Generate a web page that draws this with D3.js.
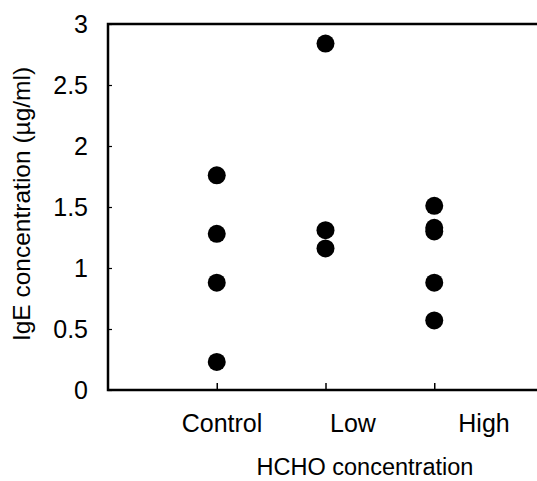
<!DOCTYPE html>
<html>
<head>
<meta charset="utf-8">
<script src="https://cdn.jsdelivr.net/npm/d3@7"></script>
<style>
  html, body { margin: 0; padding: 0; background: #fff; }
  svg { display: block; }
  text { font-family: "Liberation Sans", Arial, sans-serif; fill: #000; }
</style>
</head>
<body>
<svg id="chart" width="537" height="481"></svg>
<script>
// ---- data ----
const categories = ["Control", "Low", "High"];
const controlValues = [1.76, 1.28, 0.88, 0.23];
const lowValues = [2.84, 1.31, 1.16];
const highValues = [1.51, 1.33, 1.30, 0.88, 0.57];
const yTickValues = [0, 0.5, 1, 1.5, 2, 2.5, 3];
const xTitle = "HCHO concentration";
const yTitle = "IgE concentration (\u00b5g/ml)";

// ---- layout ----
const M = { left: 108, right: 537, top: 24, bottom: 390 };
const svg = d3.select("#chart");

const x = d3.scalePoint().domain(categories).range([M.left, 543]).padding(1);
const xLabel = d3.scalePoint().domain(categories).range([222, 484]);
const y = d3.scaleLinear().domain([0, 3]).range([M.bottom, M.top]);

const points = [];
[controlValues, lowValues, highValues].forEach((vals, i) => {
  vals.forEach(v => points.push({ cat: categories[i], v }));
});

// y axis ticks (inward) and labels
const yAxis = svg.append("g")
  .attr("transform", `translate(${M.left},0)`)
  .call(d3.axisLeft(y).tickValues(yTickValues).tickSize(-4).tickPadding(20)
    .tickFormat(d => String(d)));
yAxis.select(".domain").remove();
yAxis.selectAll(".tick line").attr("stroke", "#000").attr("stroke-width", 1.2);
yAxis.selectAll(".tick text").attr("font-size", 25).attr("fill", "#000")
  .style("font-family", '"Liberation Sans", Arial, sans-serif');

// x axis ticks (inward)
const xAxis = svg.append("g")
  .attr("transform", `translate(0,${M.bottom})`)
  .call(d3.axisBottom(x).tickSize(-7).tickFormat(""));
xAxis.select(".domain").remove();
xAxis.selectAll(".tick line").attr("stroke", "#000").attr("stroke-width", 1.5);

// category labels
svg.append("g").selectAll("text").data(categories).join("text")
  .attr("x", d => xLabel(d))
  .attr("y", 432)
  .attr("text-anchor", "middle")
  .attr("font-size", 25)
  .text(d => d);

// frame: left, top, bottom lines
svg.append("path")
  .attr("d", `M${M.right},${M.top}H${M.left}V${M.bottom}H${M.right}`)
  .attr("fill", "none")
  .attr("stroke", "#000")
  .attr("stroke-width", 2.5);

// points
svg.append("g").selectAll("circle").data(points).join("circle")
  .attr("cx", d => x(d.cat))
  .attr("cy", d => y(d.v))
  .attr("r", 9)
  .attr("fill", "#000");

// titles
svg.append("text")
  .attr("x", 365)
  .attr("y", 475)
  .attr("text-anchor", "middle")
  .attr("font-size", 23.5)
  .text(xTitle);

svg.append("text")
  .attr("transform", `translate(30,204) rotate(-90)`)
  .attr("text-anchor", "middle")
  .attr("font-size", 24.5)
  .text(yTitle);
</script>
</body>
</html>
